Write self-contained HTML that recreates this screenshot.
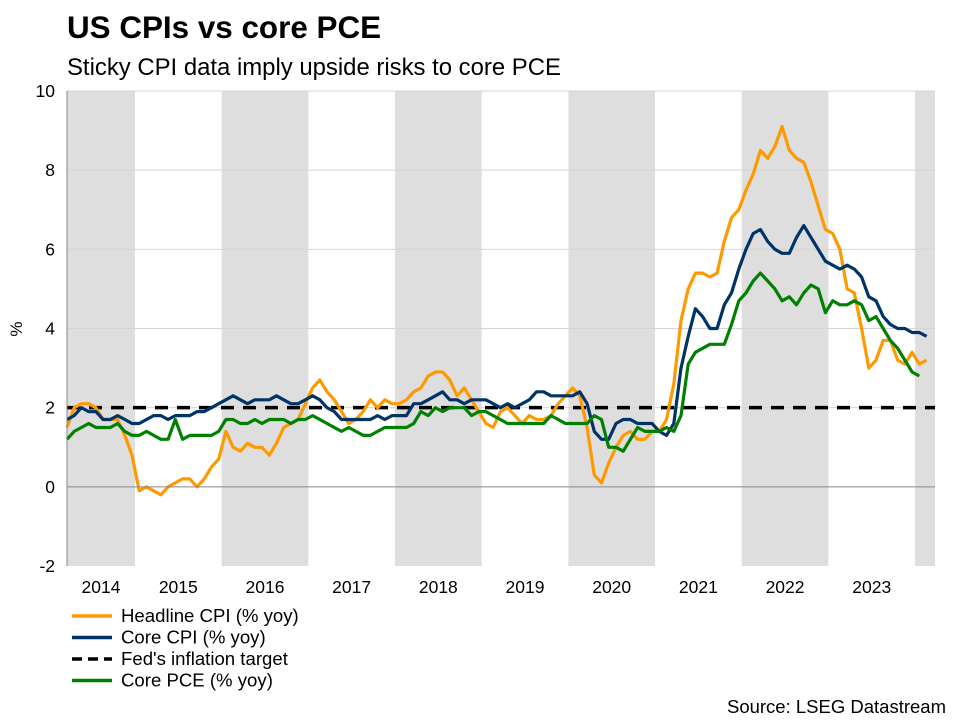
<!DOCTYPE html>
<html><head><meta charset="utf-8"><style>
body{margin:0;background:#fff;font-family:"Liberation Sans",Arial,sans-serif;}
#wrap{position:relative;width:960px;height:720px;overflow:hidden;}
</style></head><body>
<div id="wrap">
<svg id="chart" width="960" height="720">
<text x="67" y="38" font-size="31.4" font-weight="bold" fill="#000">US CPIs vs core PCE</text>
<text x="67" y="75" font-size="23.9" fill="#000">Sticky CPI data imply upside risks to core PCE</text>
<g id="bands"></g><g id="grid"></g><g id="series"></g><g id="axes"></g>
<text transform="translate(22,329) rotate(-90)" font-size="17" text-anchor="middle">%</text>
<g id="legend"></g>
<text x="946" y="713" font-size="18.5" text-anchor="end">Source: LSEG Datastream</text>
</svg></div>
<script>
const years=[2014,2015,2016,2017,2018,2019,2020,2021,2022,2023];
const yTicks=[-2,0,2,4,6,8,10];
const targetValue=2;
const startT=2014.216;
const headline=[1.5,2.0,2.1,2.1,2.0,1.7,1.7,1.7,1.3,0.8,
-0.1,0.0,-0.1,-0.2,0.0,0.1,0.2,0.2,0.0,0.2,0.5,0.7,
1.4,1.0,0.9,1.1,1.0,1.0,0.8,1.1,1.5,1.6,1.7,2.1,
2.5,2.7,2.4,2.2,1.9,1.6,1.7,1.9,2.2,2.0,2.2,2.1,
2.1,2.2,2.4,2.5,2.8,2.9,2.9,2.7,2.3,2.5,2.2,1.9,
1.6,1.5,1.9,2.0,1.8,1.6,1.8,1.7,1.7,1.8,2.1,2.3,
2.5,2.3,1.5,0.3,0.1,0.6,1.0,1.3,1.4,1.2,1.2,1.4,
1.4,1.7,2.6,4.2,5.0,5.4,5.4,5.3,5.4,6.2,6.8,7.0,
7.5,7.9,8.5,8.3,8.6,9.1,8.5,8.3,8.2,7.7,7.1,6.5,
6.4,6.0,5.0,4.9,4.0,3.0,3.2,3.7,3.7,3.2,3.1,3.4,
3.1,3.2];
const coreCPI=[1.7,1.8,2.0,1.9,1.9,1.7,1.7,1.8,1.7,1.6,
1.6,1.7,1.8,1.8,1.7,1.8,1.8,1.8,1.9,1.9,2.0,2.1,
2.2,2.3,2.2,2.1,2.2,2.2,2.2,2.3,2.2,2.1,2.1,2.2,
2.3,2.2,2.0,1.9,1.7,1.7,1.7,1.7,1.7,1.8,1.7,1.8,
1.8,1.8,2.1,2.1,2.2,2.3,2.4,2.2,2.2,2.1,2.2,2.2,
2.2,2.1,2.0,2.1,2.0,2.1,2.2,2.4,2.4,2.3,2.3,2.3,
2.3,2.4,2.1,1.4,1.2,1.2,1.6,1.7,1.7,1.6,1.6,1.6,
1.4,1.3,1.6,3.0,3.8,4.5,4.3,4.0,4.0,4.6,4.9,5.5,
6.0,6.4,6.5,6.2,6.0,5.9,5.9,6.3,6.6,6.3,6.0,5.7,
5.6,5.5,5.6,5.5,5.3,4.8,4.7,4.3,4.1,4.0,4.0,3.9,
3.9,3.8];
const corePCE=[1.2,1.4,1.5,1.6,1.5,1.5,1.5,1.6,1.4,1.3,
1.3,1.4,1.3,1.2,1.2,1.7,1.2,1.3,1.3,1.3,1.3,1.4,
1.7,1.7,1.6,1.6,1.7,1.6,1.7,1.7,1.7,1.6,1.7,1.7,
1.8,1.7,1.6,1.5,1.4,1.5,1.4,1.3,1.3,1.4,1.5,1.5,
1.5,1.5,1.6,1.9,1.8,2.0,1.9,2.0,2.0,2.0,1.8,1.9,
1.9,1.8,1.7,1.6,1.6,1.6,1.6,1.6,1.6,1.8,1.7,1.6,
1.6,1.6,1.6,1.8,1.7,1.0,1.0,0.9,1.2,1.5,1.4,1.4,
1.4,1.5,1.4,1.8,3.1,3.4,3.5,3.6,3.6,3.6,4.1,4.7,
4.9,5.2,5.4,5.2,5.0,4.7,4.8,4.6,4.9,5.1,5.0,4.4,
4.7,4.6,4.6,4.7,4.6,4.2,4.3,4.0,3.7,3.5,3.2,2.9,
2.8];
const X0=67,X1=935,Y0=91,Y1=566;
const tMin=2014.216, tMax=2024.23;
function xS(t){return X0+(t-tMin)/(tMax-tMin)*(X1-X0);}
function yS(v){return Y1-(v-(-2))/12*(Y1-Y0);}
const NS="http://www.w3.org/2000/svg";
function mk(tag,parent,attrs){const e=document.createElementNS(NS,tag);for(const k in attrs)e.setAttribute(k,attrs[k]);parent.appendChild(e);return e;}
const bands=document.getElementById('bands'),grid=document.getElementById('grid'),ser=document.getElementById('series'),axes=document.getElementById('axes'),leg=document.getElementById('legend');
[2014,2016,2018,2020,2022,2024].forEach(y=>{
  const a=Math.max(X0,xS(y)),b=Math.min(X1,xS(y+1));
  const r=mk('rect',bands,{x:a,y:Y0,width:b-a,height:Y1-Y0,fill:'#dedede'});
  
  
});
yTicks.forEach(v=>{
  if(v>0){const l=mk('line',grid,{x1:X0,x2:X1,y1:yS(v),y2:yS(v),stroke:'#d4d4d4','stroke-width':1});
  
  }
  const t=mk('text',axes,{x:55,y:yS(v)+6,'font-size':17.5,'text-anchor':'end',fill:'#000'});
  t.textContent=v;
  
  
});
const zl=mk('line',axes,{x1:X0,x2:X1,y1:yS(0),y2:yS(0),stroke:'#888','stroke-width':1});


const ax=mk('line',axes,{x1:X0,x2:X0,y1:Y0,y2:Y1,stroke:'#888','stroke-width':1});


years.forEach(y=>{
  const a=Math.max(X0,xS(y)),b=Math.min(X1,xS(y+1));
  const t=mk('text',axes,{x:(a+b)/2,y:593,'font-size':17.5,'text-anchor':'middle'});
  t.textContent=y;
  
  
});
function path(arr){return arr.map((v,i)=>(i?'L':'M')+xS(startT+i/12).toFixed(1)+','+yS(v).toFixed(1)).join(' ');}
const tl=mk('line',ser,{x1:X0,x2:X1,y1:yS(targetValue),y2:yS(targetValue),stroke:'#000','stroke-width':3.5,'stroke-dasharray':'13,9'});


[[headline,'#ff9900','headline-cpi-line'],[coreCPI,'#003366','core-cpi-line'],[corePCE,'#008000','core-pce-line']].forEach(s=>{
  const p=mk('path',ser,{d:path(s[0]),fill:'none',stroke:s[1],'stroke-width':3.2,'stroke-linejoin':'round'});
  
  
});
const items=[['Headline CPI (% yoy)','#ff9900',0],['Core CPI (% yoy)','#003366',0],["Fed's inflation target",'#000',1],['Core PCE (% yoy)','#008000',0]];
items.forEach((it,i)=>{
  const y=616+i*21.5;
  const g=mk('g',leg,{});
  
  
  mk('line',g,{x1:72,x2:112,y1:y,y2:y,stroke:it[1],'stroke-width':3.5,'stroke-dasharray':it[2]?'10,6':'none'});
  const t=mk('text',g,{x:121,y:y+6,'font-size':18.6});
  t.textContent=it[0];
});
</script>
</body></html>
